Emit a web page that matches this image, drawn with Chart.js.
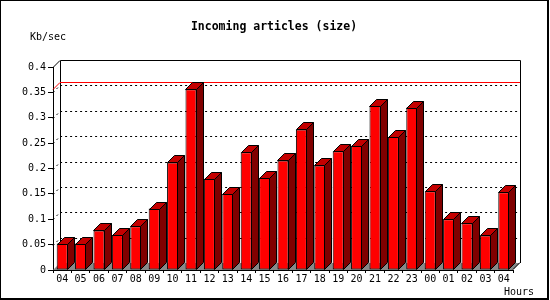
<!DOCTYPE html>
<html>
<head>
<meta charset="utf-8">
<script src="https://cdn.jsdelivr.net/npm/chart.js@4/dist/chart.umd.min.js"></script>
<style>
  html, body { margin: 0; padding: 0; background: #fff; }
  canvas { display: block; }
</style>
</head>
<body>
<canvas id="chart" width="550" height="300"></canvas>
<script>
// Data
const hours = ['04','05','06','07','08','09','10','11','12','13','14','15','16','17','18','19','20','21','22','23','00','01','02','03','04'];
const kbPerSec = [0.052, 0.052, 0.078, 0.069, 0.086, 0.121, 0.212, 0.356, 0.180, 0.150, 0.232, 0.182,
  0.216, 0.277, 0.206, 0.234, 0.245, 0.323, 0.262, 0.320, 0.155, 0.100, 0.092, 0.068, 0.153];
const yTicks = [0, 0.05, 0.1, 0.15, 0.2, 0.25, 0.3, 0.35, 0.4];

const DEPTH = 7;
const MONO = '"DejaVu Sans Mono", monospace';

// Back wall, floor, dotted grid and max line
const backdropPlugin = {
  id: 'backdrop',
  beforeDatasetsDraw(chart) {
    const { ctx, chartArea: a, scales: { y } } = chart;
    const d = DEPTH;
    ctx.save();

    // floor
    ctx.fillStyle = '#888';
    ctx.beginPath();
    ctx.moveTo(a.left, a.bottom);
    ctx.lineTo(a.right, a.bottom);
    ctx.lineTo(a.right + d, a.bottom - d);
    ctx.lineTo(a.left + d, a.bottom - d);
    ctx.closePath();
    ctx.fill();
    ctx.strokeStyle = '#000';
    ctx.lineWidth = 1;
    ctx.beginPath();
    ctx.moveTo(a.right, a.bottom - 0.5);
    ctx.lineTo(a.right + d, a.bottom - d - 0.5);
    ctx.stroke();

    // back frame
    const top = Math.round(y.getPixelForValue(y.max)) - d + 0.5;
    ctx.beginPath();
    ctx.moveTo(a.left + d + 0.5, a.bottom - d);
    ctx.lineTo(a.left + d + 0.5, top);
    ctx.lineTo(a.right + d + 0.5, top);
    ctx.lineTo(a.right + d + 0.5, a.bottom - d);
    ctx.moveTo(a.left, top + d);
    ctx.lineTo(a.left + d, top);
    ctx.stroke();

    // dotted grid on the back wall
    ctx.setLineDash([2, 3]);
    yTicks.forEach(v => {
      if (v <= y.min || v >= y.max) return;
      const py = Math.round(y.getPixelForValue(v)) + 0.5;
      ctx.beginPath();
      ctx.moveTo(a.left, py);
      ctx.lineTo(a.left + d, py - d);
      ctx.lineTo(a.right + d, py - d);
      ctx.stroke();
    });
    ctx.setLineDash([]);

    // max value line
    const maxVal = Math.max(...kbPerSec);
    const my = Math.round(y.getPixelForValue(maxVal)) + 0.5;
    ctx.strokeStyle = '#ff0000';
    ctx.beginPath();
    ctx.moveTo(a.left, my);
    ctx.lineTo(a.left + d, my - d);
    ctx.lineTo(a.right + d, my - d);
    ctx.stroke();
    ctx.restore();
  },

  // top and side faces of the bars
  afterDatasetsDraw(chart) {
    const { ctx } = chart;
    const d = DEPTH;
    ctx.save();
    ctx.strokeStyle = '#000';
    ctx.lineWidth = 1;
    chart.getDatasetMeta(0).data.forEach(bar => {
      const l = Math.round(bar.x - bar.width / 2) + 0.5;
      const r = Math.round(bar.x + bar.width / 2) - 0.5;
      const t = Math.round(bar.y) + 0.5;
      const b = Math.round(bar.base) - 0.5;

      ctx.fillStyle = '#c40000';
      ctx.beginPath();
      ctx.moveTo(l, t);
      ctx.lineTo(l + d, t - d);
      ctx.lineTo(r + d, t - d);
      ctx.lineTo(r, t);
      ctx.closePath();
      ctx.fill();
      ctx.stroke();

      ctx.fillStyle = '#800000';
      ctx.beginPath();
      ctx.moveTo(r, t);
      ctx.lineTo(r + d, t - d);
      ctx.lineTo(r + d, b - d);
      ctx.lineTo(r, b);
      ctx.closePath();
      ctx.fill();
      ctx.stroke();
    });
    ctx.restore();
  },

  // titles and outer frame
  afterDraw(chart) {
    const { ctx } = chart;
    ctx.save();
    ctx.fillStyle = '#000';
    ctx.textBaseline = 'middle';
    ctx.font = 'bold 11.5px ' + MONO;
    ctx.textAlign = 'center';
    ctx.fillText('Incoming articles (size)', 274, 27);
    ctx.font = '10px ' + MONO;
    ctx.textAlign = 'left';
    ctx.fillText('Kb/sec', 30, 37);
    ctx.fillText('Hours', 504, 292);

    ctx.strokeStyle = '#000';
    ctx.lineWidth = 1;
    ctx.strokeRect(0.5, 0.5, 547, 298);
    ctx.fillRect(548, 0, 1, 300);
    ctx.fillRect(0, 299, 549, 1);
    ctx.restore();
  }
};

new Chart(document.getElementById('chart'), {
  type: 'bar',
  data: {
    labels: hours,
    datasets: [{
      data: kbPerSec,
      backgroundColor: '#ff0000',
      borderColor: '#000',
      borderWidth: 1,
      borderSkipped: false,
      categoryPercentage: 1,
      barPercentage: 0.6
    }]
  },
  options: {
    responsive: false,
    animation: false,
    devicePixelRatio: 1,
    layout: { padding: { top: 67, right: 37, bottom: 0, left: 0 } },
    plugins: {
      legend: { display: false },
      title: { display: false },
      tooltip: { enabled: false }
    },
    scales: {
      x: {
        afterFit: scale => { scale.height = 30; },
        grid: { offset: true, drawOnChartArea: false, tickLength: 3, color: '#000' },
        border: { color: '#000' },
        ticks: { color: '#000', padding: 0, autoSkip: false, maxRotation: 0, font: { family: MONO, size: 10 } }
      },
      y: {
        min: 0,
        max: 0.4,
        afterFit: scale => { scale.width = 53; },
        grid: { drawOnChartArea: false, tickLength: 5, color: '#000' },
        border: { color: '#000' },
        ticks: {
          stepSize: 0.05,
          color: '#000',
          padding: 2,
          font: { family: MONO, size: 10 },
          callback: v => String(+v.toFixed(2))
        }
      }
    }
  },
  plugins: [backdropPlugin]
});
</script>
</body>
</html>
